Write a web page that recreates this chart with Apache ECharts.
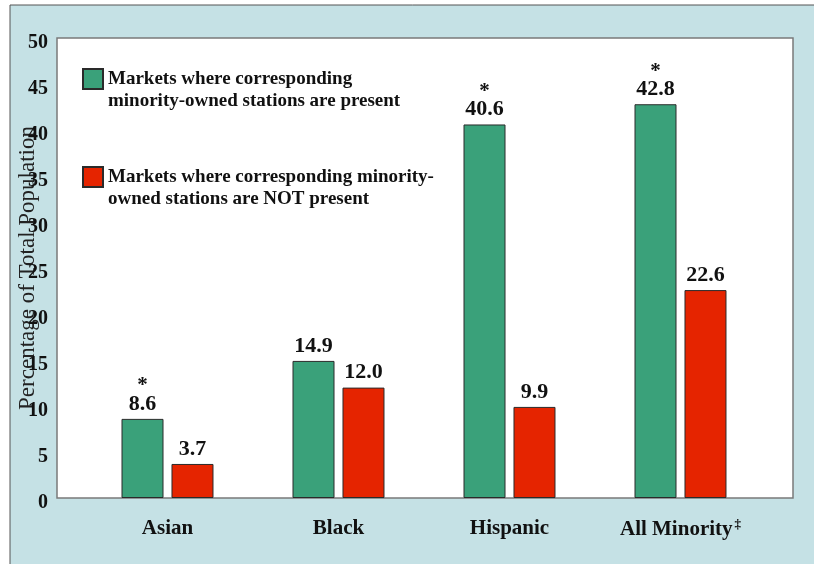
<!DOCTYPE html>
<html>
<head>
<meta charset="utf-8">
<script src="https://cdn.jsdelivr.net/npm/echarts@6/dist/echarts.min.js"></script>
<style>
html,body{margin:0;padding:0;background:#fff;}
#main{width:814px;height:564px;}
</style>
</head>
<body>
<div id="main"></div>
<script>
const categories = ['Asian', 'Black', 'Hispanic', 'All Minority'];
const categoryMarks = ['', '', '', '\u2021'];
const presentValues = [8.6, 14.9, 40.6, 42.8];
const presentStars = [true, false, true, true];
const notPresentValues = [3.7, 12.0, 9.9, 22.6];
const notPresentStars = [false, false, false, false];
const seriesNames = [
  'Markets where corresponding\nminority-owned stations are present',
  'Markets where corresponding minority-\nowned stations are NOT present'
];
const yAxisTitle = 'Percentage of Total Population';
const yMin = 0, yMax = 50, yInterval = 5;

const FONT = '"Liberation Serif", "DejaVu Serif", serif';

function labelFor(stars) {
  return {
    show: true,
    position: 'top',
    distance: 4,
    formatter: function (p) {
      const v = '{v|' + Number(p.value).toFixed(1) + '}';
      return stars[p.dataIndex] ? '{s|*}\n' + v : v;
    },
    rich: {
      s: { fontFamily: FONT, fontSize: 21, fontWeight: 'bold', lineHeight: 14, color: '#111', align: 'center' },
      v: { fontFamily: FONT, fontSize: 22, fontWeight: 'bold', lineHeight: 22, color: '#111', align: 'center' }
    }
  };
}

const chart = echarts.init(document.getElementById('main'), null, { renderer: 'canvas' });
chart.setOption({
  backgroundColor: '#ffffff',
  animation: false,
  grid: [
    { left: 10, top: 5, right: -3, bottom: -3, show: true, outerBoundsMode: 'none', backgroundColor: '#c5e1e5', borderColor: '#555', borderWidth: 1 },
    { left: 57, top: 38, right: 21, bottom: 66, show: true, outerBoundsMode: 'none', backgroundColor: '#ffffff', borderColor: '#7a7a7a', borderWidth: 1.5 },
    { left: 82, top: 38, right: 48, bottom: 66, outerBoundsMode: 'none' }
  ],
  legend: {
    orient: 'vertical',
    left: 82,
    top: 46,
    padding: 0,
    itemWidth: 20,
    itemHeight: 20,
    itemGap: 32,
    icon: 'rect',
    selectedMode: false,
    data: seriesNames,
    formatter: function (name) { return ' \n' + name; },
    textStyle: {
      fontFamily: FONT,
      fontSize: 19,
      fontWeight: 'bold',
      color: '#111',
      lineHeight: 22
    }
  },
  xAxis: [
    { gridIndex: 0, type: 'value', show: false },
    { gridIndex: 1, type: 'value', show: false },
    {
      gridIndex: 2,
      type: 'category',
      data: categories,
      axisLine: { show: false },
      axisTick: { show: false },
      axisLabel: {
        margin: 20,
        formatter: function (v, i) {
          return '{c|' + v + '}' + (categoryMarks[i] ? '{m|' + categoryMarks[i] + '}' : '');
        },
        rich: {
          c: { fontFamily: FONT, fontSize: 21, fontWeight: 'bold', color: '#111' },
          m: { fontFamily: FONT, fontSize: 13, fontWeight: 'bold', color: '#111', padding: [0, 0, 10, 2] }
        }
      }
    }
  ],
  yAxis: [
    { gridIndex: 0, type: 'value', show: false },
    { gridIndex: 1, type: 'value', show: false },
    {
      gridIndex: 2,
      type: 'value',
      min: yMin,
      max: yMax,
      interval: yInterval,
      splitLine: { show: false },
      axisLine: { show: false },
      axisTick: { show: false },
      axisLabel: {
        margin: 34,
        formatter: function (v) { return '{t|' + v + '}'; },
        rich: {
          t: { fontFamily: FONT, fontSize: 20, fontWeight: 'bold', color: '#111', padding: [9, 0, 0, 0] }
        }
      },
      name: yAxisTitle,
      nameLocation: 'middle',
      nameGap: 43,
      nameMoveOverlap: false,
      nameTextStyle: { fontFamily: FONT, fontSize: 23, color: '#222' }
    }
  ],
  series: [
    {
      name: seriesNames[0],
      type: 'bar',
      xAxisIndex: 2,
      yAxisIndex: 2,
      data: presentValues,
      barWidth: 42,
      barGap: '19%',
      itemStyle: { color: '#3aa17a', borderColor: '#2a2a2a', borderWidth: 1 },
      label: labelFor(presentStars)
    },
    {
      name: seriesNames[1],
      type: 'bar',
      xAxisIndex: 2,
      yAxisIndex: 2,
      data: notPresentValues,
      barWidth: 42,
      barGap: '19%',
      itemStyle: { color: '#e52400', borderColor: '#2a2a2a', borderWidth: 1 },
      label: labelFor(notPresentStars)
    }
  ]
});
</script>
</body>
</html>
